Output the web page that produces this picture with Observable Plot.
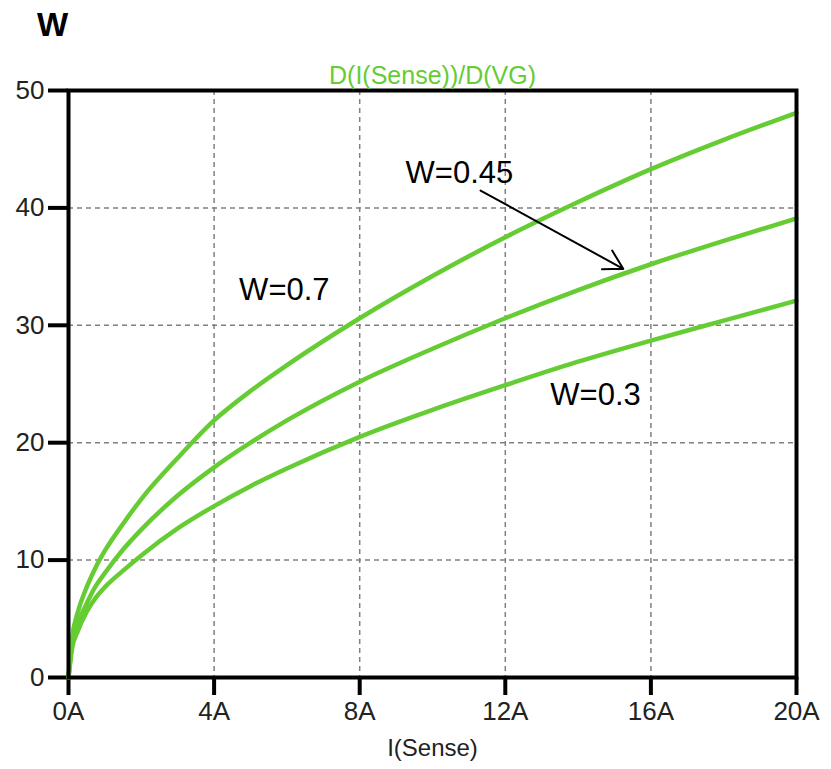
<!DOCTYPE html>
<html>
<head>
<meta charset="utf-8">
<script src="https://cdn.jsdelivr.net/npm/d3@7"></script>
<script src="https://cdn.jsdelivr.net/npm/@observablehq/plot@0.6"></script>
<style>
  body { margin: 0; background: #fff; font-family: "Liberation Sans", Arial, sans-serif; }
  #title { height: 50px; line-height: 50px; font-size: 33px; font-weight: bold; padding-left: 37px; color: #000; }
</style>
</head>
<body>
<div id="title">W</div>
<div id="chart"></div>
<script>
// Data
const current = [0, 0.1, 0.25, 0.5, 0.75, 1, 1.5, 2, 3, 4, 5, 6, 8, 10, 12, 14, 16, 18, 20];
const w07  = [0, 3.4, 5.5, 7.7, 9.4, 10.8, 13.1, 15.2, 18.7, 21.9, 24.4, 26.6, 30.6, 34.2, 37.5, 40.5, 43.3, 45.8, 48.1];
const w045 = [0, 2.9, 4.5, 6.3, 7.8, 8.9, 10.9, 12.6, 15.5, 17.9, 20.0, 21.9, 25.2, 28.0, 30.6, 33.0, 35.2, 37.2, 39.1];
const w03  = [0, 2.5, 3.9, 5.6, 6.8, 7.7, 9.1, 10.4, 12.7, 14.6, 16.3, 17.8, 20.5, 22.8, 24.9, 26.9, 28.7, 30.4, 32.1];

const xTicks = [0, 4, 8, 12, 16, 20];
const yTicks = [0, 10, 20, 30, 40, 50];

const labelText = ["W=0.7", "W=0.45", "W=0.3"];
const labelX = [5.93, 10.74, 14.48];
const labelY = [33.0, 42.97, 24.02];

const arrowFrom = {x: 11.32, y: 41.48};
const arrowTo = {x: 15.24, y: 34.81};

const subtitle = "D(I(Sense))/D(VG)";
const xLabel = "I(Sense)";

const green = "#66cc33";

const series = [
  {name: "W=0.7", values: w07},
  {name: "W=0.45", values: w045},
  {name: "W=0.3", values: w03}
];
const rows = series.flatMap(s => current.map((c, i) => ({series: s.name, x: c, y: s.values[i]})));
const labels = labelText.map((t, i) => ({t, x: labelX[i], y: labelY[i]}));

const chart = Plot.plot({
  width: 831,
  height: 719,
  marginTop: 40,
  marginLeft: 68,
  marginRight: 35,
  marginBottom: 92,
  style: {fontFamily: "'Liberation Sans', Arial, sans-serif", background: "#fff", color: "#222"},
  x: {domain: [0, 20]},
  y: {domain: [0, 50]},
  marks: [
    Plot.gridX(xTicks, {stroke: "#808080", strokeOpacity: 1, strokeWidth: 1.5, strokeDasharray: "5,4"}),
    Plot.gridY(yTicks, {stroke: "#808080", strokeOpacity: 1, strokeWidth: 1.5, strokeDasharray: "5,4"}),
    Plot.axisX(xTicks, {tickSize: 18, tickPadding: 6, strokeWidth: 4, stroke: "#000", fontSize: 26, tickFormat: d => d + "A", label: null}),
    Plot.axisY(yTicks, {tickSize: 20, tickPadding: 4, strokeWidth: 4, stroke: "#000", fontSize: 26, label: null}),
    Plot.line(rows, {x: "x", y: "y", z: "series", stroke: green, strokeWidth: 4.5, curve: "monotone-x"}),
    Plot.frame({stroke: "#000", strokeWidth: 4}),
    Plot.text(labels, {x: "x", y: "y", text: "t", fontSize: 31, fill: "#000"}),
    Plot.arrow([{x1: arrowFrom.x, y1: arrowFrom.y, x2: arrowTo.x, y2: arrowTo.y}], {x1: "x1", y1: "y1", x2: "x2", y2: "y2", stroke: "#000", strokeWidth: 2, headLength: 16, inset: 0}),
    Plot.text([subtitle], {frameAnchor: "top", lineAnchor: "bottom", dy: -7, fill: green, fontSize: 25}),
    Plot.text([xLabel], {frameAnchor: "bottom", dy: 78, fill: "#222", fontSize: 24})
  ]
});
document.getElementById("chart").appendChild(chart);
</script>
</body>
</html>
